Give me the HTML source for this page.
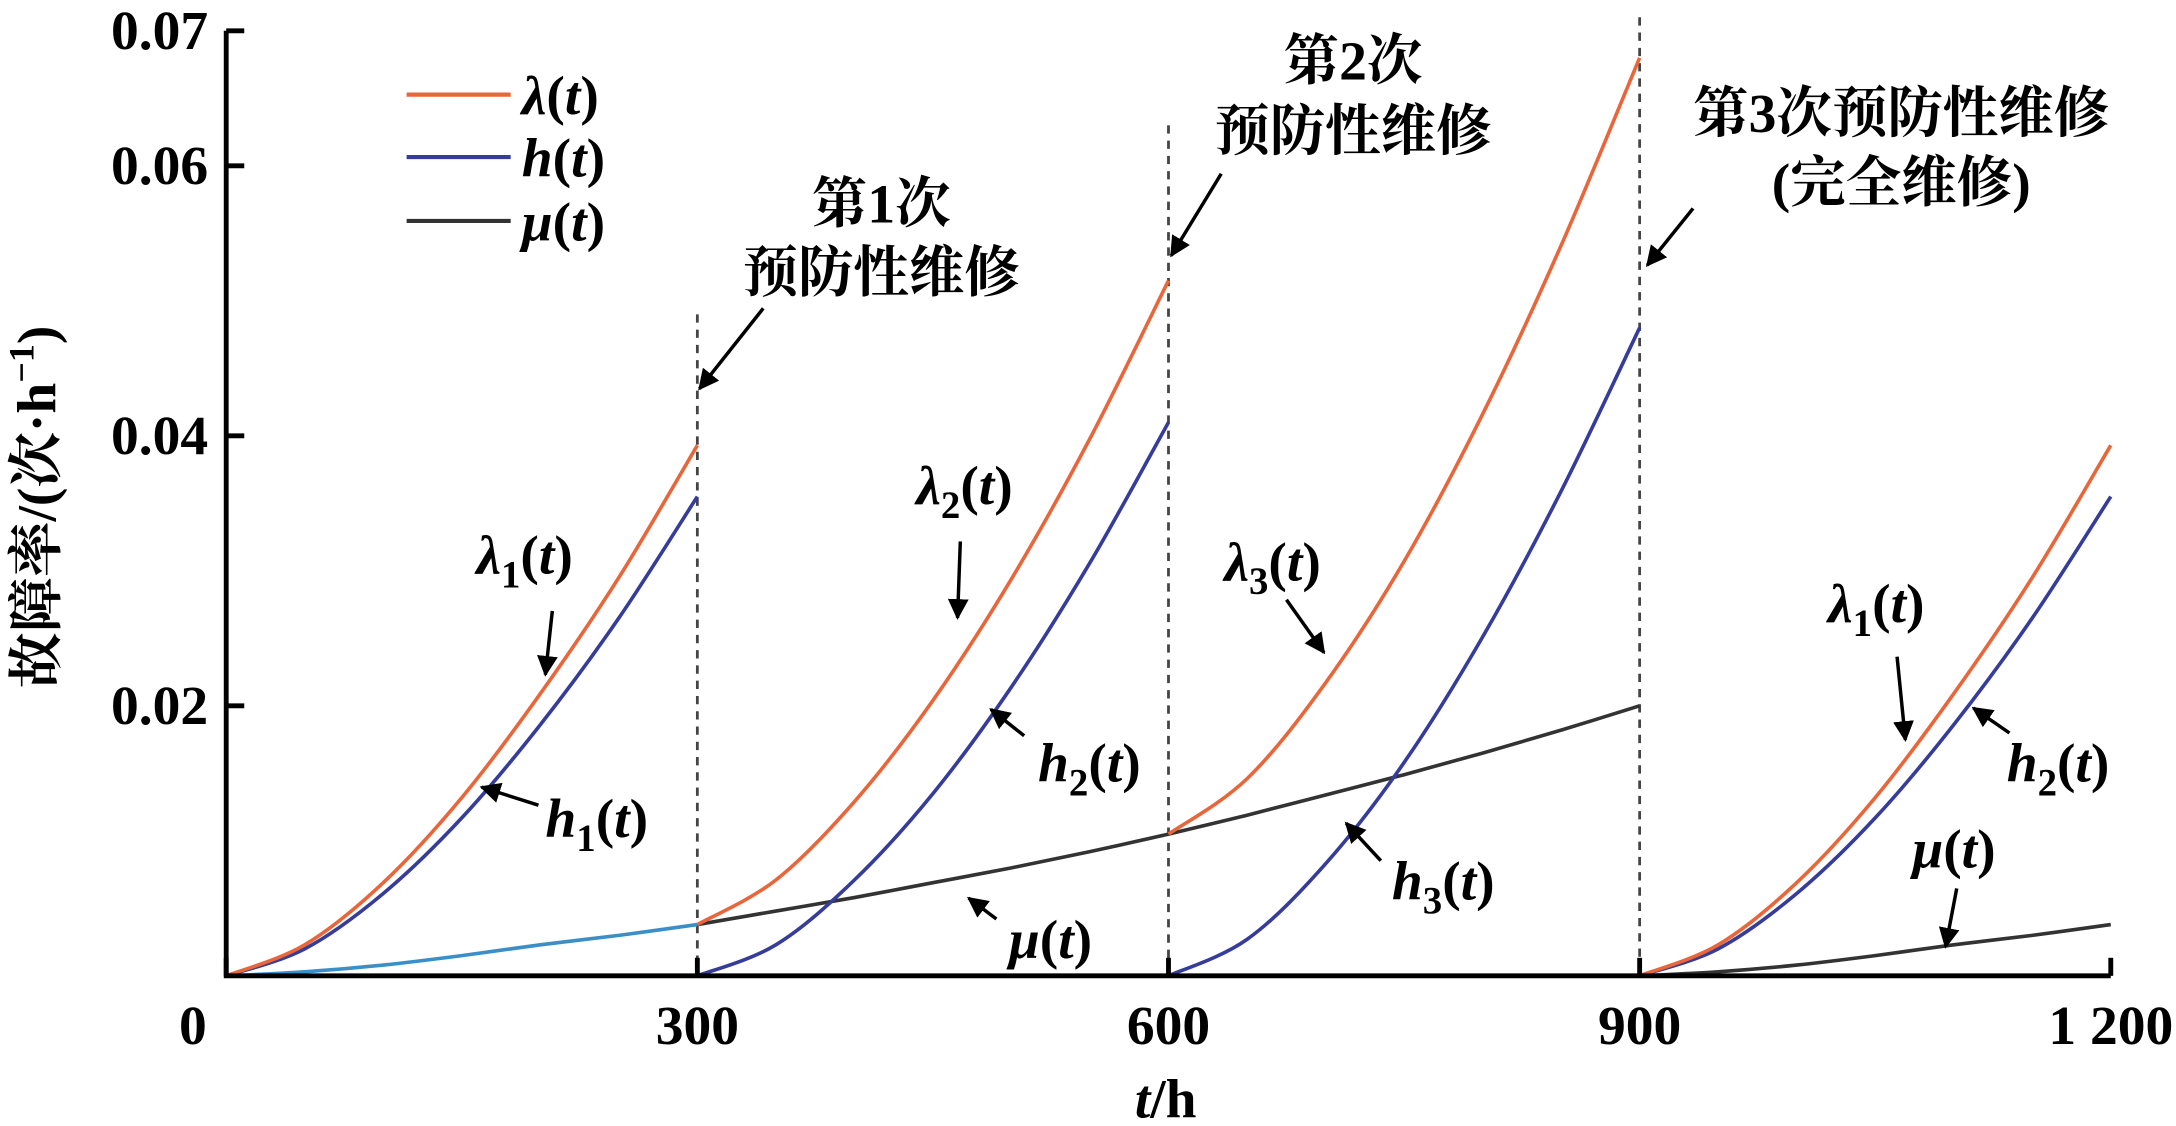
<!DOCTYPE html>
<html><head><meta charset="utf-8"><style>
html,body{margin:0;padding:0;background:#fff;}
svg{display:block;font-family:"Liberation Serif","Noto Serif CJK SC",serif;font-weight:bold;}
</style></head><body>
<svg id="chart" width="2176" height="1126" viewBox="0 0 1568 811" xmlns="http://www.w3.org/2000/svg">
<g id="plot"></g>
</svg>
<script>
const tickX=[0,300,600,900,1200];
const tickXLabels=["0","300","600","900","1 200"];
const tickY=[0.02,0.04,0.06,0.07];
const tickYLabels=["0.02","0.04","0.06","0.07"];
const segStarts=[0,300,600,900];
const segOffsets=[0,50,100,150,200,250,300];
const h1=[0,.0020,.0061,.0117,.0186,.0265,.0355];
const mu1=[0,.0003,.0008,.0015,.0023,.0030,.0038];
const lam1=[0,.0023,.0069,.0132,.0209,.0295,.0393];
const h2=[0,.0023,.0071,.0135,.0214,.0306,.041];
const mu2=[.0038,.0048,.0058,.0069,.0080,.0092,.0105];
const lam2=[.0038,.0071,.0129,.0204,.0294,.0398,.0515];
const h3=[0,.0027,.0083,.0158,.0251,.0359,.048];
const mu3=[.0105,.0119,.0134,.0149,.0165,.0182,.020];
const lam3=[.0105,.0146,.0217,.0307,.0416,.0541,.068];
const h4=[0,.0020,.0061,.0117,.0186,.0265,.0355];
const mu4=[0,.0003,.0008,.0015,.0023,.0030,.0038];
const lam4=[0,.0023,.0069,.0132,.0209,.0295,.0393];
const pmTops=[0.049,0.063,0.071];

const X=t=>163+(t/1200)*(1521-163);
const Y=v=>703-(v/0.07)*(703-22);
const NS="http://www.w3.org/2000/svg";
const g=document.getElementById('plot');
function el(tag,attrs,parent){const e=document.createElementNS(NS,tag);for(const k in attrs)e.setAttribute(k,attrs[k]);(parent||g).appendChild(e);return e;}
function curve(start,vals,color,name){
  const pts=vals.map((v,i)=>[X(start+segOffsets[i]),Y(v)]);
  let d="M"+pts[0][0]+","+pts[0][1];
  for(let i=0;i<pts.length-1;i++){const p0=pts[Math.max(0,i-1)],p1=pts[i],p2=pts[i+1],p3=pts[Math.min(pts.length-1,i+2)];
    d+=" C"+(p1[0]+(p2[0]-p0[0])/6)+","+(p1[1]+(p2[1]-p0[1])/6)+" "+(p2[0]-(p3[0]-p1[0])/6)+","+(p2[1]-(p3[1]-p1[1])/6)+" "+p2[0]+","+p2[1];}
  const p=el('path',{d:d,fill:'none',stroke:color,'stroke-width':2.6});
  
  
}
pmTops.forEach((v,i)=>{const l=el('line',{x1:X(segStarts[i+1]),x2:X(segStarts[i+1]),y1:Y(v),y2:703,stroke:'#444','stroke-width':2,'stroke-dasharray':'6,5'});
  
  });
const ORA="#e8663a",BLU="#353c9a",BLK="#333";
curve(0,mu1,"#3a8fc8","mu-seg1");
curve(300,mu2,BLK,"mu-seg2");curve(600,mu3,BLK,"mu-seg3");curve(900,mu4,BLK,"mu-seg4");
curve(0,h1,BLU,"h-seg1");curve(300,h2,BLU,"h-seg2");curve(600,h3,BLU,"h-seg3");curve(900,h4,BLU,"h-seg4");
curve(0,lam1,ORA,"lambda-seg1");curve(300,lam2,ORA,"lambda-seg2");curve(600,lam3,ORA,"lambda-seg3");curve(900,lam4,ORA,"lambda-seg4");
const ax=el('path',{d:"M163,22 L163,703 L1521,703",fill:'none',stroke:'#000','stroke-width':3.5});


tickX.forEach((t,i)=>{el('line',{x1:X(t),x2:X(t),y1:703,y2:690,stroke:'#000','stroke-width':3.5});
  const tx=el('text',{x:(i===0?X(t)-24:X(t)),y:752,'text-anchor':'middle','font-size':40});tx.textContent=tickXLabels[i];
  
  });
tickY.forEach((v,i)=>{el('line',{x1:163,x2:176,y1:Y(v),y2:Y(v),stroke:'#000','stroke-width':3.5});
  const tx=el('text',{x:150,y:Y(v)+13,'text-anchor':'end','font-size':40});tx.textContent=tickYLabels[i];
  
  });
</script>
<svg style="position:absolute;left:0;top:0" width="2176" height="1126" viewBox="0 0 1568 811" font-size="40" xmlns="http://www.w3.org/2000/svg">
<defs><marker id="ah2" viewBox="0 0 10 10" refX="9" refY="5" markerWidth="6" markerHeight="6" orient="auto"><path d="M0,0 L10,5 L0,10 z" fill="#000"/></marker></defs>
<text x="840" y="805" text-anchor="middle"><tspan font-style="italic">t</tspan>/h</text>
<text transform="translate(40,365) rotate(-90)" text-anchor="middle">故障率/(次·h<tspan font-size="26" dy="-16">−1</tspan><tspan dy="16">)</tspan></text>
<g>
<line x1="293" y1="68" x2="368" y2="68" stroke="#e8663a" stroke-width="3"/><text x="376" y="82"><tspan font-style="italic">λ</tspan>(<tspan font-style="italic">t</tspan>)</text>
<line x1="293" y1="113" x2="368" y2="113" stroke="#353c9a" stroke-width="3"/><text x="376" y="127"><tspan font-style="italic">h</tspan>(<tspan font-style="italic">t</tspan>)</text>
<line x1="293" y1="159" x2="368" y2="159" stroke="#333" stroke-width="3"/><text x="376" y="173"><tspan font-style="italic">μ</tspan>(<tspan font-style="italic">t</tspan>)</text>
</g>
<g stroke="#000" stroke-width="2.5" marker-end="url(#ah2)" fill="none">
<line x1="550" y1="222" x2="504" y2="280"/>
<line x1="880" y1="125" x2="844" y2="184"/>
<line x1="1220" y1="150" x2="1187" y2="191"/>
<line x1="398" y1="440" x2="393" y2="486"/>
<line x1="388" y1="580" x2="347" y2="567"/>
<line x1="692" y1="390" x2="690" y2="445"/>
<line x1="738" y1="530" x2="714" y2="511"/>
<line x1="927" y1="432" x2="954" y2="470"/>
<line x1="995" y1="620" x2="970" y2="593"/>
<line x1="718" y1="662" x2="698" y2="647"/>
<line x1="1367" y1="473" x2="1373" y2="533"/>
<line x1="1448" y1="528" x2="1422" y2="510"/>
<line x1="1410" y1="640" x2="1402" y2="682"/>
</g>
<g>
<text x="635" y="160" text-anchor="middle">第1次</text><text x="635" y="210" text-anchor="middle">预防性维修</text>
<text x="975" y="57" text-anchor="middle">第2次</text><text x="975" y="108" text-anchor="middle">预防性维修</text>
<text x="1370" y="95" text-anchor="middle">第3次预防性维修</text><text x="1370" y="145" text-anchor="middle">(完全维修)</text>
<text x="378" y="413" text-anchor="middle"><tspan font-style="italic">λ</tspan><tspan font-size="28" dy="10">1</tspan><tspan dy="-10">(</tspan><tspan font-style="italic">t</tspan>)</text>
<text x="430" y="603" text-anchor="middle"><tspan font-style="italic">h</tspan><tspan font-size="28" dy="10">1</tspan><tspan dy="-10">(</tspan><tspan font-style="italic">t</tspan>)</text>
<text x="695" y="363" text-anchor="middle"><tspan font-style="italic">λ</tspan><tspan font-size="28" dy="10">2</tspan><tspan dy="-10">(</tspan><tspan font-style="italic">t</tspan>)</text>
<text x="785" y="563" text-anchor="middle"><tspan font-style="italic">h</tspan><tspan font-size="28" dy="10">2</tspan><tspan dy="-10">(</tspan><tspan font-style="italic">t</tspan>)</text>
<text x="917" y="418" text-anchor="middle"><tspan font-style="italic">λ</tspan><tspan font-size="28" dy="10">3</tspan><tspan dy="-10">(</tspan><tspan font-style="italic">t</tspan>)</text>
<text x="1040" y="648" text-anchor="middle"><tspan font-style="italic">h</tspan><tspan font-size="28" dy="10">3</tspan><tspan dy="-10">(</tspan><tspan font-style="italic">t</tspan>)</text>
<text x="757" y="690" text-anchor="middle"><tspan font-style="italic">μ</tspan>(<tspan font-style="italic">t</tspan>)</text>
<text x="1352" y="448" text-anchor="middle"><tspan font-style="italic">λ</tspan><tspan font-size="28" dy="10">1</tspan><tspan dy="-10">(</tspan><tspan font-style="italic">t</tspan>)</text>
<text x="1483" y="563" text-anchor="middle"><tspan font-style="italic">h</tspan><tspan font-size="28" dy="10">2</tspan><tspan dy="-10">(</tspan><tspan font-style="italic">t</tspan>)</text>
<text x="1408" y="625" text-anchor="middle"><tspan font-style="italic">μ</tspan>(<tspan font-style="italic">t</tspan>)</text>
</g>
</svg>
</body></html>
